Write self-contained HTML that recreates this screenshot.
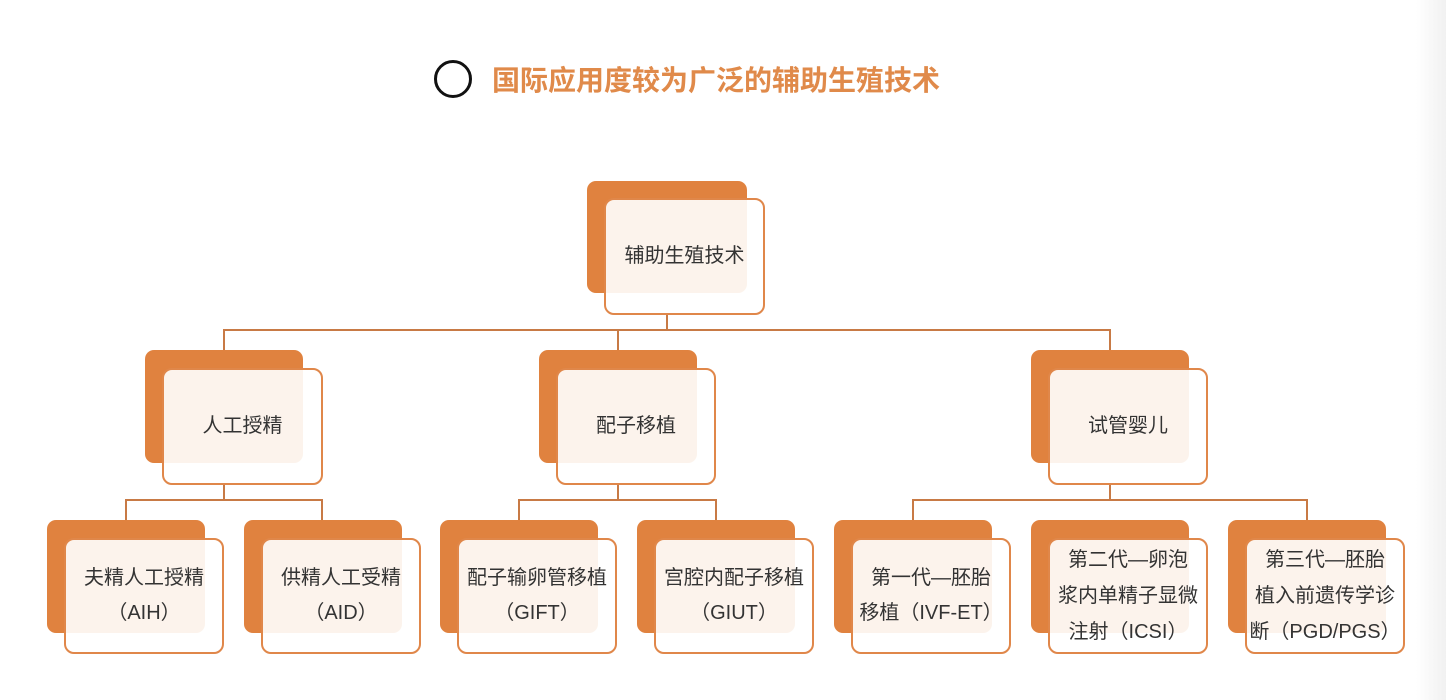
<!DOCTYPE html>
<html><head><meta charset="utf-8"><style>
body{margin:0;width:1446px;height:700px;background:#fff;position:relative;overflow:hidden;font-family:"Liberation Sans","Noto Sans CJK SC",sans-serif;}
.edge{position:absolute;right:0;top:0;width:30px;height:700px;background:linear-gradient(to right,#fff,#f1f1f1);}
.b{position:absolute;background:#E0823F;border-radius:9px;}
.f{position:absolute;border:2px solid #E0874A;border-radius:10px;background:rgba(255,255,255,0.9);box-sizing:border-box;display:flex;align-items:center;justify-content:center;text-align:center;color:#333;font-size:20px;line-height:35px;white-space:nowrap;}
.l{position:absolute;background:#C87A45;}
.t{position:absolute;left:492px;top:59px;font-size:28px;font-weight:bold;color:#E08A4A;}
.c{position:absolute;left:434px;top:60px;width:32px;height:32px;border:3px solid #111;border-radius:50%;}
</style></head><body>
<div class="edge"></div>
<div class="c"></div><div class="t">国际应用度较为广泛的辅助生殖技术</div>

<div class="l" style="left:666px;top:315px;width:2px;height:16px"></div>
<div class="l" style="left:223px;top:329px;width:888px;height:2px"></div>
<div class="l" style="left:223px;top:329px;width:2px;height:21px"></div>
<div class="l" style="left:617px;top:329px;width:2px;height:21px"></div>
<div class="l" style="left:1109px;top:329px;width:2px;height:21px"></div>

<div class="l" style="left:223px;top:485px;width:2px;height:15px"></div>
<div class="l" style="left:125px;top:499px;width:198px;height:2px"></div>
<div class="l" style="left:125px;top:499px;width:2px;height:21px"></div>
<div class="l" style="left:321px;top:499px;width:2px;height:21px"></div>

<div class="l" style="left:617px;top:485px;width:2px;height:15px"></div>
<div class="l" style="left:518px;top:499px;width:199px;height:2px"></div>
<div class="l" style="left:518px;top:499px;width:2px;height:21px"></div>
<div class="l" style="left:715px;top:499px;width:2px;height:21px"></div>

<div class="l" style="left:1109px;top:485px;width:2px;height:15px"></div>
<div class="l" style="left:912px;top:499px;width:396px;height:2px"></div>
<div class="l" style="left:912px;top:499px;width:2px;height:21px"></div>
<div class="l" style="left:1306px;top:499px;width:2px;height:21px"></div>

<div class="b" style="left:587px;top:181px;width:160px;height:112px"></div>
<div class="f" style="left:604px;top:198px;width:161px;height:117px">辅助生殖技术</div>

<div class="b" style="left:145px;top:350px;width:158px;height:113px"></div>
<div class="f" style="left:162px;top:368px;width:161px;height:117px">人工授精</div>
<div class="b" style="left:539px;top:350px;width:158px;height:113px"></div>
<div class="f" style="left:556px;top:368px;width:160px;height:117px">配子移植</div>
<div class="b" style="left:1031px;top:350px;width:158px;height:113px"></div>
<div class="f" style="left:1048px;top:368px;width:160px;height:117px">试管婴儿</div>

<div class="b" style="left:47px;top:520px;width:158px;height:113px"></div>
<div class="f" style="left:64px;top:538px;width:160px;height:116px">夫精人工授精<br>（AIH）</div>
<div class="b" style="left:244px;top:520px;width:158px;height:113px"></div>
<div class="f" style="left:261px;top:538px;width:160px;height:116px">供精人工受精<br>（AID）</div>
<div class="b" style="left:440px;top:520px;width:158px;height:113px"></div>
<div class="f" style="left:457px;top:538px;width:160px;height:116px">配子输卵管移植<br>（GIFT）</div>
<div class="b" style="left:637px;top:520px;width:158px;height:113px"></div>
<div class="f" style="left:654px;top:538px;width:160px;height:116px">宫腔内配子移植<br>（GIUT）</div>
<div class="b" style="left:834px;top:520px;width:158px;height:113px"></div>
<div class="f" style="left:851px;top:538px;width:160px;height:116px">第一代—胚胎<br>移植（IVF-ET）</div>
<div class="b" style="left:1031px;top:520px;width:158px;height:113px"></div>
<div class="f" style="left:1048px;top:538px;width:160px;height:116px;line-height:36px">第二代—卵泡<br>浆内单精子显微<br>注射（ICSI）</div>
<div class="b" style="left:1228px;top:520px;width:158px;height:113px"></div>
<div class="f" style="left:1245px;top:538px;width:160px;height:116px;line-height:36px">第三代—胚胎<br>植入前遗传学诊<br>断（PGD/PGS）</div>
</body></html>
